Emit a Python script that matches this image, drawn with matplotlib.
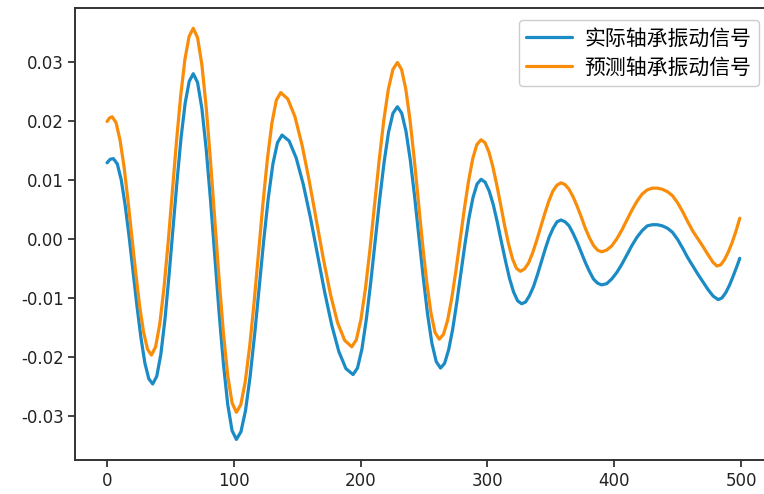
import matplotlib
matplotlib.use("Agg")
import matplotlib.pyplot as plt

plt.rcParams['font.family'] = ['Noto Sans CJK SC', 'DejaVu Sans']

# --------- data ---------
actual_x = [0, 2.5, 5,
            8.1, 11.2, 14.3, 17.4, 20.5, 23.6, 26.7, 29.8, 32.9, 36,
            39.2, 42.4, 45.6, 48.8, 52, 55.2, 58.4, 61.6, 64.8, 68,
            71.4, 74.8, 78.2, 81.6, 85, 88.4, 91.8, 95.2, 98.6, 102,
            105.6, 109.2, 112.8, 116.4, 120, 123.6, 127.2, 130.8, 134.4, 138,
            143.6, 149.2, 154.8, 160.4, 166, 171.6, 177.2, 182.8, 188.4, 194,
            197.5, 201, 204.5, 208, 211.5, 215, 218.5, 222, 225.5, 229,
            232.4, 235.8, 239.2, 242.6, 246, 249.4, 252.8, 256.2, 259.6, 263,
            266.2, 269.4, 272.6, 275.8, 279, 282.2, 285.4, 288.6, 291.8, 295,
            298.2, 301.4, 304.6, 307.8, 311, 314.2, 317.4, 320.6, 323.8, 327,
            330.1, 333.2, 336.3, 339.4, 342.5, 345.6, 348.7, 351.8, 354.9, 358,
            361.2, 364.4, 367.6, 370.8, 374, 377.2, 380.4, 383.6, 386.8, 390,
            394, 398, 402, 406, 410, 414, 418, 422, 426, 430,
            434, 438, 442, 446, 450, 454, 458, 462, 466, 470, 474, 478, 482,
            485, 488, 491, 494, 497, 499]
actual_y = [0.0129, 0.0135, 0.0136,
            0.0127, 0.0100, 0.0057, 0.0004, -0.0055, -0.0114, -0.0167, -0.0210, -0.0237, -0.0246,
            -0.0233, -0.0196, -0.0138, -0.0064, 0.0017, 0.0098, 0.0172, 0.0230, 0.0267, 0.0280,
            0.0265, 0.0221, 0.0152, 0.0066, -0.0030, -0.0126, -0.0212, -0.0281, -0.0325, -0.0340,
            -0.0327, -0.0291, -0.0234, -0.0162, -0.0082, -0.0002, 0.0070, 0.0127, 0.0163, 0.0176,
            0.0166, 0.0137, 0.0092, 0.0036, -0.0027, -0.0090, -0.0146, -0.0191, -0.0220, -0.0230,
            -0.0219, -0.0187, -0.0136, -0.0073, -0.0003, 0.0067, 0.0130, 0.0181, 0.0213, 0.0224,
            0.0213, 0.0182, 0.0133, 0.0071, 0.0003, -0.0066, -0.0128, -0.0177, -0.0208, -0.0219,
            -0.0211, -0.0188, -0.0153, -0.0108, -0.0059, -0.0010, 0.0035, 0.0070, 0.0093, 0.0101,
            0.0096, 0.0081, 0.0058, 0.0028, -0.0005, -0.0037, -0.0067, -0.0090, -0.0105, -0.0110,
            -0.0107, -0.0096, -0.0081, -0.0061, -0.0039, -0.0017, 0.0003, 0.0018, 0.0029, 0.0032,
            0.0029, 0.0022, 0.0009, -0.0006, -0.0023, -0.0040, -0.0055, -0.0068, -0.0075, -0.0078,
            -0.0076, -0.0068, -0.0057, -0.0043, -0.0027, -0.0011, 0.0003, 0.0014, 0.0022, 0.0024,
            0.0024, 0.0022, 0.0018, 0.0011, -0.0001, -0.0016, -0.0032, -0.0046, -0.0060, -0.0073, -0.0086, -0.0097, -0.0103,
            -0.0100, -0.0091, -0.0078, -0.0062, -0.0045, -0.0033]

pred_x = [0, 2, 4,
          7.1, 10.2, 13.3, 16.4, 19.5, 22.6, 25.7, 28.8, 31.9, 35,
          38.3, 41.6, 44.9, 48.2, 51.5, 54.8, 58.1, 61.4, 64.7, 68,
          71.4, 74.8, 78.2, 81.6, 85, 88.4, 91.8, 95.2, 98.6, 102,
          105.5, 109, 112.5, 116, 119.5, 123, 126.5, 130, 133.5, 137,
          142.6, 148.2, 153.8, 159.4, 165, 170.6, 176.2, 181.8, 187.4, 193,
          196.6, 200.2, 203.8, 207.4, 211, 214.6, 218.2, 221.8, 225.4, 229,
          232.3, 235.6, 238.9, 242.2, 245.5, 248.8, 252.1, 255.4, 258.7, 262,
          265.3, 268.6, 271.9, 275.2, 278.5, 281.8, 285.1, 288.4, 291.7, 295,
          298.1, 301.2, 304.3, 307.4, 310.5, 313.6, 316.7, 319.8, 322.9, 326,
          329.2, 332.4, 335.6, 338.8, 342, 345.2, 348.4, 351.6, 354.8, 358,
          361.2, 364.4, 367.6, 370.8, 374, 377.2, 380.4, 383.6, 386.8, 390,
          394, 398, 402, 406, 410, 414, 418, 422, 426, 430,
          434, 438, 442, 446, 450, 454, 458, 462, 466, 470, 474, 478, 481,
          484, 487, 490, 493, 496, 499]
pred_y = [0.0199, 0.0205, 0.0207,
          0.0197, 0.0168, 0.0124, 0.0067, 0.0005, -0.0057, -0.0114, -0.0158, -0.0187, -0.0197,
          -0.0183, -0.0144, -0.0083, -0.0006, 0.0080, 0.0166, 0.0243, 0.0304, 0.0343, 0.0357,
          0.0341, 0.0295, 0.0223, 0.0132, 0.0032, -0.0069, -0.0160, -0.0232, -0.0278, -0.0294,
          -0.0281, -0.0242, -0.0182, -0.0107, -0.0023, 0.0061, 0.0136, 0.0196, 0.0235, 0.0248,
          0.0237, 0.0207, 0.0159, 0.0099, 0.0033, -0.0034, -0.0094, -0.0142, -0.0172, -0.0183,
          -0.0171, -0.0137, -0.0084, -0.0017, 0.0058, 0.0133, 0.0200, 0.0253, 0.0287, 0.0299,
          0.0287, 0.0254, 0.0202, 0.0137, 0.0065, -0.0008, -0.0073, -0.0125, -0.0159, -0.0170,
          -0.0162, -0.0138, -0.0100, -0.0053, -0.0001, 0.0051, 0.0098, 0.0136, 0.0160, 0.0168,
          0.0163, 0.0147, 0.0122, 0.0091, 0.0057, 0.0022, -0.0009, -0.0034, -0.0050, -0.0055,
          -0.0051, -0.0041, -0.0024, -0.0003, 0.0020, 0.0043, 0.0064, 0.0081, 0.0091, 0.0095,
          0.0092, 0.0084, 0.0071, 0.0055, 0.0037, 0.0018, 0.0002, -0.0011, -0.0019, -0.0022,
          -0.0019, -0.0012, 0.0000, 0.0015, 0.0032, 0.0049, 0.0064, 0.0076, 0.0083, 0.0086,
          0.0086, 0.0084, 0.0080, 0.0073, 0.0061, 0.0046, 0.0029, 0.0013, 0.0000, -0.0013, -0.0027, -0.0040, -0.0046,
          -0.0044, -0.0035, -0.0022, -0.0006, 0.0013, 0.0035]

labels = ['实际轴承振动信号', '预测轴承振动信号']
x_ticks = [0, 100, 200, 300, 400, 500]
y_ticks = [-0.03, -0.02, -0.01, 0.00, 0.01, 0.02, 0.03]

# --------- figure ---------
fig = plt.figure(figsize=(7.64, 4.94), dpi=100)
ax = fig.add_axes([0.0987, 0.0688, 0.911, 0.9156])

ax.plot(actual_x, actual_y, color='#1a8bc4', lw=2.3, label=labels[0],
        solid_joinstyle='round', solid_capstyle='round')
ax.plot(pred_x, pred_y, color='#f98d0a', lw=2.3, label=labels[1],
        solid_joinstyle='round', solid_capstyle='round')

ax.set_xticks(x_ticks)
ax.set_yticks(y_ticks)
ax.set_yticklabels([f'{v:.2f}' for v in y_ticks])
ax.tick_params(labelsize=12, length=5, width=1.2, colors='#222222')
for lbl in ax.get_xticklabels() + ax.get_yticklabels():
    lbl.set_family('DejaVu Sans')
for s in ax.spines.values():
    s.set_linewidth(1.4)
    s.set_color('#333333')

ax.legend(loc='upper right', fontsize=15, handlelength=2.2, handletextpad=0.6,
          labelspacing=0.35, borderaxespad=0.6, borderpad=0.35, framealpha=1)

fig.savefig('out.png', dpi=100)
